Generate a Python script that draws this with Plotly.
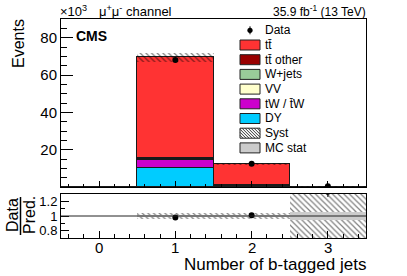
import numpy as np
import plotly.graph_objects as go

# ---------------- data (thousands of events) ----------------
bins = [0, 1, 2, 3]
tick_labels = ["0", "1", "2", "3"]
dy = [0.0, 10.0, 0.05, 0.0]
tw = [0.0, 4.6, 0.4, 0.01]
vv = [0.0, 0.15, 0.02, 0.0]
wjets = [0.0, 0.05, 0.01, 0.0]
ttother = [0.0, 0.5, 0.5, 0.03]
tt = [0.0, 54.2, 11.4, 0.22]
data = [np.nan, 68.0, 12.5, 0.346]
syst = [0.0, 2.5, 0.5, 0.12]
mcstat = [0.0, 0.06, 0.03, 0.015]

names = ["DY", "tW / t\u0304W", "VV", "W+jets", "tt\u0304 other", "tt\u0304"]
series = [dy, tw, vv, wjets, ttother, tt]
colors = ["#00ccff", "#cc00cc", "#ffffcc", "#99cc99", "#990000", "#ff3333"]

# ---------------- derived ----------------
total = np.sum(np.array(series), axis=0)
data_a = np.array(data)
data_err = np.sqrt(data_a * 1000.0) / 1000.0
syst_a = np.array(syst)
mc_a = np.array(mcstat)
with np.errstate(divide="ignore", invalid="ignore"):
    ratio = np.where(total > 0, data_a / total, np.nan)
    ratio_err = np.where(total > 0, data_err / total, np.nan)
    rel_syst = np.where(total > 0, syst_a / total, np.nan)
    rel_mc = np.where(total > 0, mc_a / total, np.nan)

W, H = 407, 276
L, R, T, B = 61, 366, 19, 238


def X(px):
    return (px - L) / (R - L)


def Y(py):
    return (B - py) / (B - T)


fig = go.Figure()

# stacked backgrounds
for n, s, c in zip(names, series, colors):
    fig.add_trace(go.Bar(x=bins, y=s, width=1.0, marker=dict(color=c, line=dict(color="#1a1a1a", width=1)),
                         name=n, xaxis="x", yaxis="y", showlegend=False))

hatch = dict(shape="\\", fgcolor="black", bgcolor="rgba(0,0,0,0)", size=4, solidity=0.3, fillmode="overlay")

# syst band main
fig.add_trace(go.Bar(x=bins, y=2 * syst_a, base=total - syst_a, width=1.0,
                     marker=dict(color="rgba(0,0,0,0)", line=dict(width=0), pattern=hatch),
                     xaxis="x", yaxis="y", showlegend=False))
# data main
fig.add_trace(go.Scatter(x=bins, y=data_a, mode="markers",
                         marker=dict(color="black", size=6),
                         error_y=dict(type="data", array=data_err, color="black", thickness=1, width=0),
                         xaxis="x", yaxis="y", showlegend=False))

# ratio: syst
fig.add_trace(go.Bar(x=bins, y=2 * rel_syst, base=1 - rel_syst, width=1.0,
                     marker=dict(color="rgba(0,0,0,0)", line=dict(width=0), pattern=hatch),
                     xaxis="x2", yaxis="y2", showlegend=False))
# ratio: MC stat
fig.add_trace(go.Bar(x=bins, y=2 * rel_mc, base=1 - rel_mc, width=1.0,
                     marker=dict(color="#cccccc", line=dict(width=0)),
                     xaxis="x2", yaxis="y2", showlegend=False))
# ratio: data
fig.add_trace(go.Scatter(x=bins, y=ratio, mode="markers",
                         marker=dict(color="black", size=6),
                         error_y=dict(type="data", array=ratio_err, color="black", thickness=1, width=0),
                         xaxis="x2", yaxis="y2", showlegend=False))

font = "Liberation Sans, Arial, Helvetica, sans-serif"
ax_common = dict(showline=True, mirror=True, linecolor="black", linewidth=1, showgrid=False,
                 zeroline=False, ticks="inside", tickcolor="black", automargin=False)

main_bottom = (B - 187) / (B - T)
ratio_top = (B - 194) / (B - T)

fig.update_layout(
    width=W, height=H, autosize=False,
    margin=dict(l=L, r=W - R, t=T, b=H - B, pad=0),
    paper_bgcolor="white", plot_bgcolor="white",
    barmode="stack", bargap=0,
    font=dict(family=font, color="black", size=14),
    showlegend=False,
    xaxis=dict(domain=[0, 1], anchor="y", range=[-0.5, 3.5], showticklabels=False,
               tickmode="array", tickvals=bins, ticklen=6,
               minor=dict(ticks="inside", ticklen=3, tickmode="linear", tick0=-0.4, dtick=0.2, tickcolor="black"),
               **ax_common),
    yaxis=dict(domain=[main_bottom, 1], anchor="x", range=[0, 90], tickmode="array",
               tickvals=[20, 40, 60, 80], ticklen=12, tickfont=dict(size=15),
               minor=dict(ticks="inside", ticklen=6, tickmode="linear", tick0=0, dtick=5, tickcolor="black"),
               **ax_common),
    xaxis2=dict(domain=[0, 1], anchor="y2", range=[-0.5, 3.5], matches="x", showticklabels=False,
                tickmode="array", tickvals=bins, ticklen=7,
                minor=dict(ticks="inside", ticklen=4, tickmode="linear", tick0=-0.4, dtick=0.2, tickcolor="black"),
                **ax_common),
    yaxis2=dict(domain=[0, ratio_top], anchor="x2", range=[0.7, 1.3], tickmode="array",
                tickvals=[0.8, 1.0, 1.2], ticktext=["0.8", "1", "1.2"], ticklen=8, tickfont=dict(size=13),
                minor=dict(ticks="inside", ticklen=4, tickmode="linear", tick0=0.7, dtick=0.1, tickcolor="black"),
                **ax_common),
)

shapes = []
anns = []

# unity line in ratio
shapes.append(dict(type="line", xref="paper", yref="y2", x0=0, x1=1, y0=1, y1=1,
                   line=dict(color="#222222", width=1), layer="above"))


def ann(text, px, py, size, xanchor="left", yanchor="middle", angle=0, bold=False):
    if bold:
        text = "<b>" + text + "</b>"
    anns.append(dict(text=text, x=X(px), y=Y(py), xref="paper", yref="paper", showarrow=False,
                     xanchor=xanchor, yanchor=yanchor, textangle=angle,
                     font=dict(size=size, family=font, color="black"), borderpad=0))


# x tick labels of the ratio panel, placed at the bin values
for b, lab in zip(bins, tick_labels):
    anns.append(dict(text=lab, x=b, xref="x2", y=Y(247), yref="paper", showarrow=False,
                     xanchor="center", yanchor="middle", font=dict(size=15, family=font, color="black"),
                     borderpad=0))

ann("\u00d710<sup>3</sup>", 59, 11, 13)
ann("\u03bc<sup>+</sup>\u03bc<sup>-</sup> channel", 98, 11, 13)
ann("35.9 fb<sup>-1</sup> (13 TeV)", 367, 11, 12, xanchor="right")
ann("CMS", 75, 36, 14, bold=True)
ann("Events", 18, 44, 16, xanchor="center", angle=-90)
ann("Number of b-tagged jets", 367, 264, 17, xanchor="right")
ann("Data", 12, 215, 16, xanchor="center", angle=-90)
ann("Pred.", 29, 215, 16, xanchor="center", angle=-90)
shapes.append(dict(type="line", xref="paper", yref="paper", x0=X(20.5), x1=X(20.5), y0=Y(197), y1=Y(235),
                   line=dict(color="black", width=1.5)))

# ---------------- custom legend ----------------
leg_items = [("Data", None), ("tt\u0304", colors[5]), ("tt\u0304 other", colors[4]), ("W+jets", colors[3]),
             ("VV", colors[2]), ("tW / t\u0304W", colors[1]), ("DY", colors[0]), ("Syst", "hatch"),
             ("MC stat", "#cccccc")]
sx0, sx1 = 240, 260
y0c, step = 30.3, 14.7


def rect(px0, py0, px1, py1, fill):
    shapes.append(dict(type="rect", xref="paper", yref="paper", x0=X(px0), x1=X(px1), y0=Y(py1), y1=Y(py0),
                       fillcolor=fill, line=dict(color="#222222", width=1)))


for i, (lab, col) in enumerate(leg_items):
    yc = y0c + i * step
    if col is None:
        r = 2.6
        shapes.append(dict(type="circle", xref="paper", yref="paper", x0=X(250 - r), x1=X(250 + r),
                           y0=Y(yc + r), y1=Y(yc - r), fillcolor="black", line=dict(color="black", width=0)))
        shapes.append(dict(type="line", xref="paper", yref="paper", x0=X(250), x1=X(250),
                           y0=Y(yc + 4), y1=Y(yc - 4), line=dict(color="black", width=1)))
    elif col == "hatch":
        top, bot = yc - 5, yc + 5
        rect(sx0, top, sx1, bot, "white")
        hgt = bot - top
        d = -hgt
        while d < (sx1 - sx0):
            xa, ya = sx0 + d, top
            xb, yb = sx0 + d + hgt, bot
            if xa < sx0:
                ya = top + (sx0 - xa)
                xa = sx0
            if xb > sx1:
                yb = bot - (xb - sx1)
                xb = sx1
            if xb > xa:
                shapes.append(dict(type="line", xref="paper", yref="paper", x0=X(xa), x1=X(xb),
                                   y0=Y(ya), y1=Y(yb), line=dict(color="#333333", width=1)))
            d += 3
    else:
        rect(sx0, yc - 5, sx1, yc + 5, col)
    ann(lab, 264, yc, 12)

fig.update_layout(shapes=shapes, annotations=anns)
fig.write_html("out.html", config={"displayModeBar": False},
               post_script="document.body.style.margin='0';document.body.style.padding='0';")
